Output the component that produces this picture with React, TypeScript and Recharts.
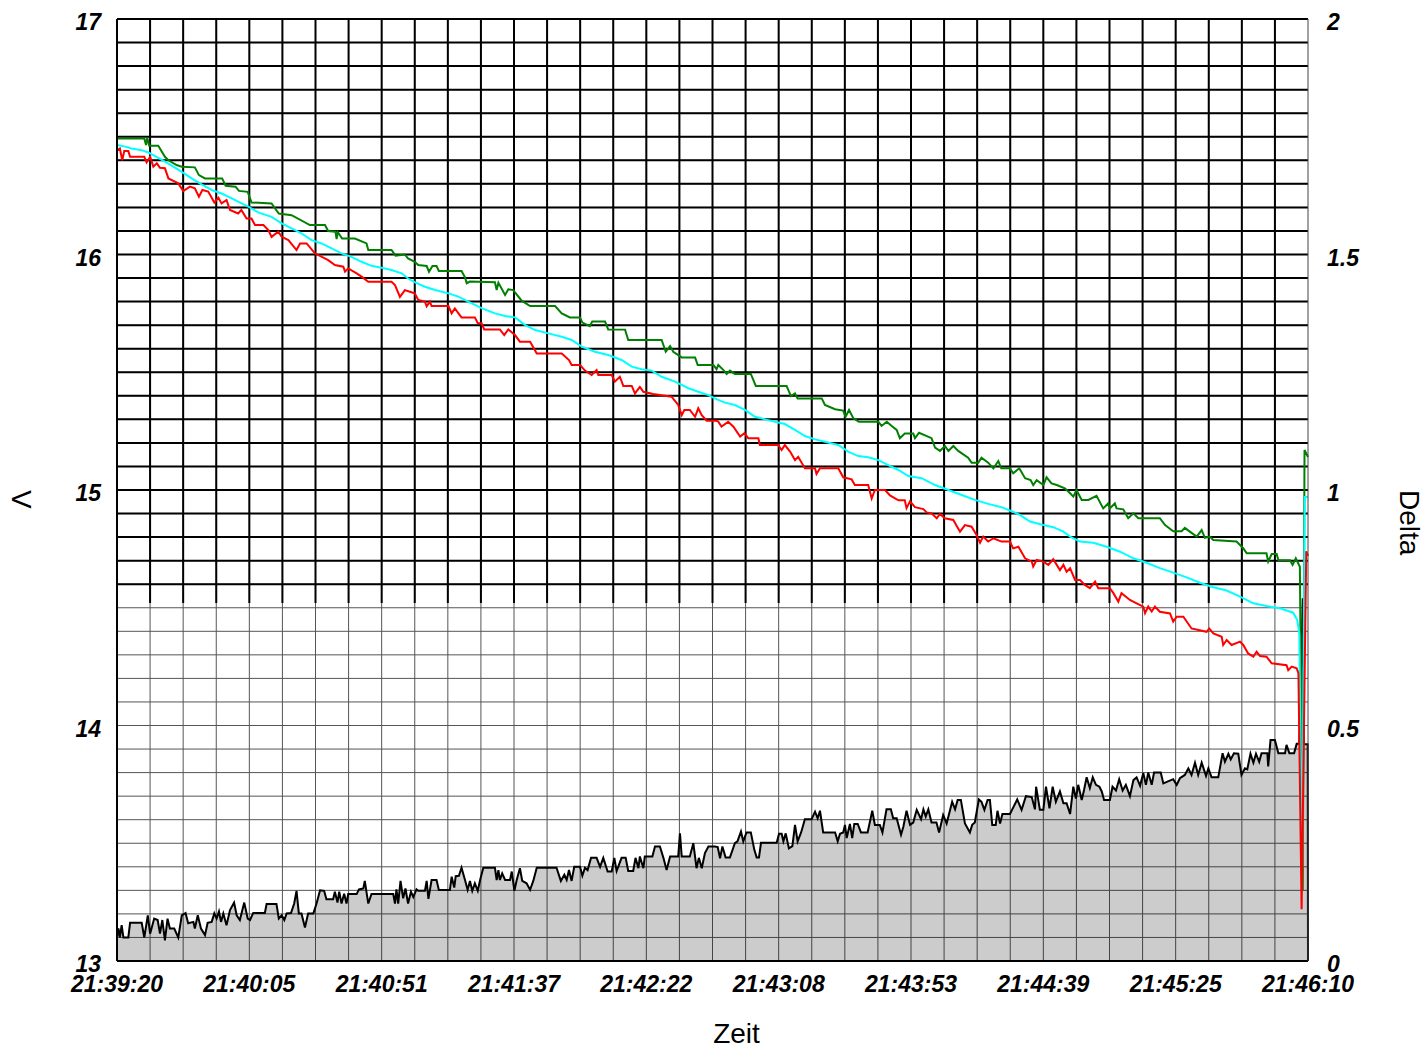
import React from 'react';
import { ComposedChart, Line, Area, XAxis, YAxis, CartesianGrid, ReferenceLine } from 'recharts';

// time labels on the x axis (seconds since 21:39:20)
const timeLabels = ['21:39:20', '21:40:05', '21:40:51', '21:41:37', '21:42:22', '21:43:08', '21:43:53', '21:44:39', '21:45:25', '21:46:10'];
const voltTicks = [13, 14, 15, 16, 17];
const deltaTicks = [0, 0.5, 1, 1.5, 2];

// [seconds, volts]
const greenCell: [number, number][] = [
  [0, 16.493], [9.4, 16.493], [10.0, 16.465], [10.4, 16.496], [11.1, 16.462], [14.2, 16.462], [16.5, 16.415], [17.7, 16.4],
  [20.5, 16.38], [22.3, 16.373], [26.8, 16.37], [28.2, 16.337], [30.3, 16.323], [36.2, 16.323], [37.4, 16.292], [40.8, 16.288],
  [42.0, 16.27], [45.0, 16.266], [46.3, 16.221], [53.2, 16.217], [55.7, 16.174], [60.1, 16.167], [66.4, 16.125], [71.6, 16.125],
  [72.7, 16.1], [75.2, 16.097], [75.6, 16.065], [76.0, 16.095], [77.5, 16.068], [81.9, 16.068], [85.9, 16.047], [86.5, 16.019],
  [94.5, 16.019], [95.9, 15.995], [99.1, 16.0], [100.2, 15.983], [102.5, 15.969], [103.7, 15.955], [106.6, 15.951], [107.4, 15.927],
  [108.6, 15.951], [110.0, 15.951], [110.8, 15.93], [118.6, 15.93], [119.8, 15.903], [120.4, 15.878], [121.5, 15.885], [130.1, 15.882],
  [130.7, 15.849], [131.3, 15.88], [133.6, 15.828], [134.7, 15.852], [136.4, 15.849], [139.3, 15.804], [142.2, 15.781], [150.8, 15.781],
  [153.1, 15.75], [155.9, 15.733], [159.4, 15.733], [160.2, 15.711], [162.8, 15.696], [163.6, 15.715], [168.0, 15.715], [169.1, 15.682],
  [174.9, 15.681], [176.0, 15.637], [187.5, 15.637], [188.9, 15.587], [190.4, 15.611], [191.5, 15.587], [194.4, 15.563], [199.0, 15.563],
  [199.9, 15.531], [205.3, 15.531], [206.4, 15.513], [207.0, 15.531], [208.7, 15.51], [209.9, 15.493], [211, 15.507], [212.7, 15.493],
  [218.2, 15.493], [219.9, 15.442], [230.5, 15.442], [232.0, 15.399], [233.4, 15.41], [234.3, 15.389], [242.6, 15.389], [243.7, 15.361],
  [247.2, 15.343], [250.0, 15.337], [250.8, 15.311], [252, 15.34], [253.5, 15.304], [255.4, 15.29], [262.1, 15.29], [263.2, 15.272],
  [265, 15.29], [266.7, 15.272], [268.4, 15.255], [269.5, 15.22], [271.2, 15.24], [274.1, 15.24], [274.7, 15.22], [276.1, 15.243],
  [280.4, 15.22], [281.6, 15.18], [283.3, 15.166], [285, 15.187], [286.2, 15.166], [287.9, 15.187], [289.6, 15.166], [293.0, 15.137],
  [294.2, 15.116], [296.5, 15.116], [297.6, 15.137], [299.9, 15.116], [301.7, 15.092], [303.4, 15.123], [304.4, 15.092], [307.4, 15.092],
  [308.5, 15.071], [310.6, 15.092], [312.6, 15.05], [314.5, 15.042], [315.4, 15.021], [316.6, 15.042], [318.9, 15.021], [320.0, 15.054],
  [321.7, 15.028], [323.5, 15.021], [326.3, 15.007], [328.1, 14.986], [329.2, 14.972], [330.3, 15.0], [332.1, 14.958], [334.4, 14.958],
  [337.2, 14.975], [339.5, 14.922], [341.2, 14.943], [341.8, 14.922], [343.5, 14.943], [344.1, 14.922], [346.4, 14.918], [348.1, 14.88],
  [349.9, 14.901], [351.6, 14.88], [359.0, 14.88], [360.8, 14.851], [363.6, 14.825], [366.5, 14.825], [367.6, 14.839], [369.9, 14.818],
  [371.7, 14.802], [373.4, 14.83], [374.5, 14.797], [376.2, 14.802], [377.4, 14.788], [385.4, 14.781], [387.7, 14.753], [388.9, 14.731],
  [395.7, 14.731], [396.3, 14.696], [397.5, 14.728], [399.2, 14.728], [399.8, 14.703], [403.8, 14.702], [404.7, 14.682], [405.8, 14.71],
  [407.2, 14.674], [408.2, 13.3], [408.8, 15.17], [410, 15.14],
];

const cyanCell: [number, number][] = [
  [0, 16.465], [2.8, 16.458], [5, 16.45], [8.5, 16.443], [10.8, 16.433], [13.6, 16.415], [16.5, 16.394], [19.4, 16.373],
  [22.3, 16.351], [25.7, 16.323], [29.1, 16.298], [32.6, 16.274], [36, 16.259], [39.5, 16.238], [42.9, 16.217], [45.2, 16.203],
  [48.6, 16.179], [53.2, 16.16], [56.7, 16.132], [60.1, 16.111], [63.5, 16.09], [67, 16.061], [70.4, 16.047], [73.9, 16.026],
  [77.3, 16.005], [80.7, 15.99], [84.2, 15.969], [87.6, 15.952], [91.1, 15.944], [94.5, 15.934], [98, 15.92], [100.2, 15.898],
  [102.6, 15.882], [106, 15.863], [109.5, 15.849], [114.1, 15.835], [117.5, 15.821], [120.9, 15.8], [125.5, 15.772], [130.1, 15.75],
  [133.6, 15.739], [137, 15.733], [140.4, 15.701], [143.9, 15.679], [148.5, 15.665], [153.1, 15.651], [156.5, 15.637], [160, 15.609],
  [164.5, 15.587], [169.1, 15.573], [173.7, 15.552], [177.2, 15.524], [180.6, 15.513], [184.1, 15.507], [187.5, 15.481], [192.1, 15.46],
  [196.7, 15.432], [200.1, 15.417], [203.6, 15.403], [206.5, 15.385], [209.3, 15.371], [212.7, 15.361], [216.2, 15.34], [219.6, 15.311],
  [223.1, 15.3], [226.5, 15.29], [229.9, 15.28], [233.4, 15.255], [236.8, 15.229], [240.3, 15.215], [243.7, 15.205], [248.3, 15.191],
  [251.7, 15.163], [255.2, 15.144], [258.6, 15.139], [262.1, 15.127], [265.5, 15.106], [269, 15.085], [272.4, 15.059], [277, 15.05],
  [281.6, 15.021], [286.2, 15.0], [290.8, 14.979], [295.3, 14.958], [299.9, 14.941], [304.5, 14.927], [308, 14.91], [310.8, 14.894],
  [314.3, 14.866], [318.9, 14.851], [322.3, 14.842], [325.8, 14.823], [328.1, 14.802], [331.5, 14.781], [336.1, 14.776], [340.7, 14.759],
  [345.3, 14.738], [349.9, 14.71], [354.4, 14.691], [359, 14.668], [363.6, 14.649], [368.2, 14.629], [372.8, 14.606], [377.4, 14.587],
  [382, 14.573], [386.6, 14.547], [391.2, 14.519], [395.7, 14.507], [400.3, 14.498], [404.9, 14.479], [406.3, 14.448], [407, 14.391],
  [408, 13.4], [408.9, 14.97], [410, 14.97],
];

const redCell: [number, number][] = [
  [0, 16.443], [1, 16.45], [1.8, 16.4], [2.5, 16.439], [3.9, 16.439], [4.5, 16.415], [9.4, 16.415], [10.2, 16.391],
  [11.4, 16.415], [12.5, 16.373], [13.7, 16.387], [14.8, 16.368], [16.5, 16.366], [17.7, 16.323], [21.1, 16.302], [22.8, 16.269],
  [25.1, 16.288], [26.8, 16.281], [28.2, 16.245], [29.4, 16.274], [31.4, 16.267], [33.5, 16.221], [34.9, 16.241], [36, 16.217],
  [37.7, 16.231], [38.9, 16.189], [41.7, 16.174], [42.8, 16.189], [44.6, 16.153], [46.3, 16.153], [47.5, 16.125], [50.4, 16.125],
  [52.1, 16.104], [53.2, 16.075], [55.5, 16.097], [56.7, 16.075], [59, 16.061], [61.8, 16.019], [63, 16.047], [65.3, 16.047],
  [68.1, 16.005], [72.7, 15.976], [75, 15.955], [77.9, 15.948], [78.5, 15.927], [79.6, 15.941], [82.5, 15.92], [84.2, 15.906],
  [86.5, 15.884], [94.5, 15.884], [95.7, 15.87], [97.4, 15.82], [99.1, 15.849], [100.8, 15.842], [102.5, 15.835], [103.7, 15.807],
  [106, 15.8], [106.6, 15.78], [107.7, 15.8], [108.3, 15.781], [114.1, 15.781], [115.2, 15.75], [116.3, 15.771], [118.6, 15.733],
  [123.2, 15.733], [124.2, 15.708], [125.5, 15.708], [126.4, 15.682], [131.8, 15.682], [133.3, 15.658], [134.7, 15.682], [137, 15.658],
  [138.7, 15.63], [142.2, 15.63], [144.5, 15.58], [153.1, 15.58], [155.6, 15.552], [156.5, 15.531], [159.4, 15.531], [161.1, 15.507],
  [163.4, 15.488], [165.1, 15.509], [165.7, 15.488], [170.3, 15.488], [171.4, 15.46], [173.1, 15.481], [174.3, 15.442], [177.2, 15.442],
  [178.3, 15.41], [180, 15.438], [181.2, 15.417], [184.6, 15.408], [190.9, 15.396], [193.2, 15.361], [194.4, 15.318], [195.3, 15.34],
  [197.2, 15.34], [199, 15.311], [200.1, 15.347], [201.3, 15.318], [203, 15.294], [206.4, 15.294], [207, 15.29], [208.1, 15.269],
  [210.4, 15.29], [212.2, 15.269], [214.5, 15.227], [216, 15.241], [217.3, 15.22], [220.8, 15.22], [221.3, 15.191], [227.6, 15.191],
  [228.8, 15.17], [229.9, 15.191], [231.7, 15.163], [233.4, 15.127], [234.5, 15.141], [236.8, 15.092], [240.3, 15.092], [240.8, 15.068],
  [242, 15.092], [248.3, 15.092], [250, 15.054], [252.9, 15.045], [254, 15.021], [258.6, 15.021], [259.8, 14.964], [260.9, 15.0],
  [264.4, 15.0], [266.1, 14.977], [269, 14.956], [271.2, 14.956], [271.8, 14.923], [273, 14.952], [274.7, 14.927], [277.6, 14.919],
  [278.7, 14.905], [280.4, 14.901], [282.2, 14.88], [283.3, 14.898], [285, 14.88], [287.9, 14.873], [290.2, 14.823], [291.9, 14.851],
  [294.2, 14.844], [295.9, 14.809], [297.1, 14.776], [298.2, 14.802], [299.9, 14.781], [301.7, 14.795], [304.5, 14.781], [307.4, 14.781],
  [308.5, 14.752], [310.3, 14.759], [312.6, 14.71], [314.9, 14.696], [315.4, 14.675], [316.6, 14.703], [318.9, 14.696], [320.6, 14.682],
  [322.3, 14.706], [324.6, 14.66], [325.8, 14.682], [326.9, 14.653], [328.1, 14.668], [329.8, 14.618], [331.5, 14.618], [333.2, 14.597],
  [334.9, 14.583], [336.7, 14.611], [337.8, 14.583], [341.8, 14.583], [343, 14.562], [344.7, 14.526], [345.8, 14.562], [348.7, 14.533],
  [351, 14.519], [353.3, 14.505], [353.9, 14.477], [355, 14.505], [356.2, 14.484], [357.3, 14.505], [359, 14.483], [362.5, 14.476],
  [363.6, 14.441], [364.8, 14.462], [367.1, 14.462], [369.9, 14.412], [375.1, 14.398], [376, 14.412], [377.4, 14.391], [380.3, 14.377],
  [380.8, 14.342], [382, 14.363], [383.7, 14.342], [386.6, 14.356], [387.7, 14.342], [389.4, 14.306], [391.2, 14.292], [392.3, 14.313],
  [393.5, 14.295], [395.7, 14.292], [397.5, 14.264], [402.6, 14.256], [403.2, 14.235], [404.4, 14.25], [406.1, 14.243], [406.7, 14.222],
  [407.8, 13.22], [409.4, 14.74], [410, 14.72],
];

// [seconds, delta] on the right axis
const delta: [number, number][] = [
  [0, 0.05], [0.5, 0.069], [1.0, 0.05], [1.6, 0.076], [2.2, 0.05], [3.9, 0.05], [4.5, 0.081], [8.5, 0.081], [9.4, 0.05],
  [10.6, 0.097], [11.4, 0.058], [12.8, 0.09], [14.0, 0.087], [14.8, 0.058], [15.6, 0.087], [16.5, 0.044], [17.4, 0.09], [18.2, 0.069],
  [19.7, 0.069], [21.1, 0.05], [22.3, 0.097], [23.6, 0.102], [24.5, 0.08], [26.3, 0.083], [26.8, 0.069], [27.8, 0.097], [28.9, 0.069],
  [30.3, 0.055], [31.2, 0.081], [32.6, 0.083], [33.5, 0.101], [34.3, 0.09], [35.1, 0.105], [35.8, 0.083], [36.6, 0.101], [37.7, 0.076],
  [38.9, 0.108], [40.3, 0.124], [41.2, 0.097], [42.3, 0.087], [43.8, 0.124], [45.0, 0.09], [45.8, 0.087], [46.9, 0.102], [50.9, 0.102],
  [51.5, 0.121], [54.9, 0.121], [55.7, 0.09], [56.7, 0.097], [57.6, 0.087], [58.4, 0.101], [59.9, 0.102], [61.0, 0.122], [61.8, 0.149],
  [62.6, 0.101], [63.5, 0.101], [64.7, 0.071], [65.8, 0.101], [67.6, 0.101], [68.7, 0.122], [69.9, 0.15], [71.3, 0.149], [72.1, 0.131],
  [74.4, 0.131], [75.0, 0.147], [75.9, 0.124], [76.5, 0.147], [77.3, 0.122], [78.2, 0.143], [79.0, 0.122], [79.6, 0.142], [82.5, 0.142],
  [83.3, 0.152], [84.8, 0.154], [85.3, 0.17], [86.5, 0.122], [87.6, 0.142], [95.1, 0.142], [95.7, 0.122], [96.2, 0.152], [96.8, 0.122],
  [97.6, 0.17], [98.5, 0.133], [99.3, 0.154], [100.2, 0.122], [101.2, 0.147], [102.0, 0.136], [103.1, 0.152], [103.7, 0.149],
  [106.0, 0.149], [106.6, 0.17], [107.2, 0.132], [108.3, 0.172], [110.0, 0.172], [110.8, 0.151], [114.6, 0.151], [115.2, 0.179],
  [116.1, 0.156], [116.6, 0.18], [117.7, 0.181], [118.6, 0.198], [119.8, 0.172], [120.7, 0.151], [121.5, 0.17], [122.3, 0.149],
  [123.2, 0.165], [124.2, 0.149], [125.0, 0.172], [126.1, 0.198], [130.1, 0.198], [130.7, 0.172], [131.3, 0.193], [131.8, 0.172],
  [132.6, 0.186], [133.6, 0.172], [135.3, 0.172], [135.9, 0.19], [136.8, 0.149], [137.6, 0.172], [138.7, 0.197], [139.5, 0.17],
  [141.0, 0.165], [142.2, 0.151], [143.3, 0.17], [144.5, 0.198], [151.3, 0.198], [152.8, 0.17], [154.0, 0.183], [154.8, 0.172],
  [155.6, 0.193], [156.5, 0.17], [157.4, 0.2], [159.4, 0.2], [160.2, 0.181], [161.1, 0.198], [162.0, 0.193], [163.2, 0.219],
  [165.1, 0.219], [166.3, 0.2], [167.4, 0.219], [168.9, 0.19], [170.3, 0.19], [171.2, 0.219], [172.0, 0.191], [173.7, 0.219],
  [175.1, 0.219], [176.0, 0.191], [177.7, 0.191], [178.5, 0.219], [179.5, 0.197], [180.0, 0.222], [181.2, 0.197], [181.7, 0.222],
  [184.3, 0.222], [185.2, 0.243], [186.9, 0.243], [188.1, 0.219], [189.2, 0.193], [190.4, 0.222], [193.2, 0.222], [193.8, 0.271],
  [194.4, 0.222], [197.2, 0.222], [198.4, 0.25], [199.5, 0.197], [200.3, 0.219], [201.3, 0.197], [202.4, 0.229], [203.6, 0.243],
  [205.8, 0.243], [206.8, 0.242], [207.6, 0.218], [208.4, 0.243], [209.5, 0.22], [211.0, 0.22], [212.7, 0.25], [213.6, 0.254],
  [214.8, 0.275], [215.6, 0.254], [216.7, 0.273], [218.2, 0.273], [219.4, 0.236], [220.2, 0.22], [221.0, 0.22], [221.7, 0.251],
  [227.1, 0.251], [227.9, 0.27], [228.8, 0.27], [229.4, 0.254], [230.2, 0.271], [231.3, 0.239], [232.5, 0.244], [233.4, 0.289],
  [234.3, 0.254], [235.5, 0.273], [236.8, 0.301], [239.1, 0.301], [240.3, 0.317], [241.2, 0.303], [242.0, 0.319], [243.1, 0.273],
  [247.2, 0.273], [248.1, 0.254], [248.9, 0.27], [250.0, 0.273], [250.6, 0.289], [251.2, 0.261], [252.3, 0.291], [253.1, 0.261],
  [253.8, 0.291], [255.0, 0.291], [256.1, 0.273], [258.4, 0.273], [260.0, 0.319], [260.9, 0.289], [262.6, 0.289], [263.5, 0.273],
  [264.9, 0.322], [266.4, 0.322], [267.2, 0.303], [268.4, 0.303], [269.9, 0.268], [270.7, 0.285], [271.8, 0.319], [273.0, 0.289],
  [274.1, 0.294], [275.3, 0.321], [276.8, 0.301], [277.6, 0.322], [278.4, 0.307], [279.3, 0.322], [280.4, 0.294], [282.1, 0.294],
  [283.0, 0.273], [284.4, 0.31], [285.6, 0.292], [287.5, 0.338], [288.5, 0.322], [289.4, 0.342], [290.5, 0.342], [291.9, 0.292],
  [293.6, 0.273], [294.4, 0.289], [295.3, 0.294], [296.7, 0.343], [297.6, 0.338], [298.6, 0.321], [299.7, 0.342], [300.5, 0.342],
  [301.3, 0.289], [302.5, 0.289], [303.1, 0.319], [304.0, 0.292], [304.8, 0.312], [307.4, 0.312], [308.2, 0.322], [309.9, 0.343],
  [311.4, 0.321], [312.9, 0.35], [314.9, 0.348], [316.0, 0.322], [316.4, 0.37], [317.7, 0.321], [318.9, 0.321], [319.8, 0.37],
  [321.0, 0.324], [322.1, 0.37], [323.2, 0.338], [324.6, 0.36], [325.8, 0.335], [326.9, 0.335], [328.1, 0.312], [329.2, 0.37],
  [330.1, 0.345], [330.9, 0.374], [332.1, 0.342], [332.9, 0.363], [333.8, 0.39], [334.9, 0.367], [335.9, 0.39], [337.0, 0.374],
  [338.2, 0.37], [339.0, 0.36], [339.8, 0.342], [341.8, 0.342], [342.7, 0.37], [343.9, 0.362], [345.0, 0.386], [346.2, 0.362],
  [347.3, 0.374], [348.7, 0.35], [349.9, 0.384], [351.0, 0.39], [352.2, 0.372], [353.3, 0.399], [354.2, 0.374], [355.0, 0.4],
  [356.2, 0.374], [357.0, 0.4], [359.3, 0.4], [360.2, 0.377], [363.6, 0.386], [364.8, 0.374], [365.9, 0.388], [367.6, 0.395],
  [368.8, 0.409], [369.9, 0.395], [371.1, 0.421], [372.2, 0.395], [373.4, 0.421], [374.9, 0.393], [375.7, 0.409], [376.8, 0.39],
  [379.1, 0.39], [380.6, 0.441], [381.4, 0.423], [382.6, 0.44], [383.4, 0.428], [384.5, 0.441], [386.0, 0.44], [387.1, 0.395],
  [388.3, 0.409], [389.1, 0.407], [390.2, 0.44], [391.2, 0.421], [392.1, 0.44], [393.2, 0.423], [394.0, 0.441], [396.0, 0.441],
  [396.3, 0.413], [397.1, 0.469], [398.6, 0.469], [399.8, 0.441], [402.1, 0.441], [402.6, 0.459], [403.6, 0.441], [405.2, 0.441],
  [406.1, 0.461], [407.0, 0.461], [408.2, 0.77], [408.6, 0.46], [409.9, 0.46], [410, 0],
];

const toPts = (arr: [number, number][]) => arr.map(([t, v]) => ({ t, v }));
const greenData = toPts(greenCell);
const cyanData = toPts(cyanCell);
const redData = toPts(redCell);
const deltaData = toPts(delta);

const T_END = 410;
const timeTicks = timeLabels.map((_, i) => (i * T_END) / 9);
const gridT = Array.from({ length: 35 }, (_, i) => ((i + 1) * T_END) / 36);
const gridV = Array.from({ length: 39 }, (_, i) => Math.round((13.1 + i * 0.1) * 10) / 10);
const blackH = [...gridV.filter((v) => v > 14.55), 17];

const tickFont = {
  fontFamily: "'Liberation Sans', Arial, sans-serif",
  fontSize: 23,
  fontWeight: 'bold',
  fontStyle: 'italic',
  fill: '#000',
};
const titleFont = { fontFamily: "'Liberation Sans', Arial, sans-serif", fontSize: 28, fill: '#000' };

export default function App() {
  return (
    <div style={{ position: 'absolute', left: 0, top: 0, background: '#fff' }}>
      <ComposedChart width={1426} height={1048} data={deltaData} margin={{ top: 19, right: 0, bottom: 0, left: 0 }}>
        <CartesianGrid yAxisId="left" horizontalValues={gridV} verticalValues={gridT} stroke="#555" strokeWidth={1} />
        <XAxis
          dataKey="t"
          type="number"
          domain={[0, T_END]}
          ticks={timeTicks}
          interval={0}
          tickFormatter={(_v: number, i: number) => timeLabels[i]}
          height={87}
          tickLine={false}
          tickSize={0}
          tickMargin={15}
          tick={tickFont}
          axisLine={{ stroke: '#000', strokeWidth: 2 }}
          label={{ value: 'Zeit', position: 'insideBottom', offset: 5, dx: 24, style: titleFont }}
        />
        <YAxis
          yAxisId="left"
          domain={[13, 17]}
          ticks={voltTicks}
          interval={0}
          width={117}
          tickLine={false}
          tickSize={0}
          tickMargin={16}
          tick={{ ...tickFont, dy: 3 }}
          axisLine={{ stroke: '#000', strokeWidth: 2 }}
          label={{ value: 'V', angle: 90, position: 'insideLeft', offset: 22, style: titleFont }}
        />
        <YAxis
          yAxisId="right"
          orientation="right"
          domain={[0, 2]}
          ticks={deltaTicks}
          interval={0}
          width={118}
          tickLine={false}
          tickSize={0}
          tickMargin={19}
          tick={{ ...tickFont, dy: 3 }}
          axisLine={{ stroke: '#444', strokeWidth: 1 }}
          label={{ value: 'Delta', angle: 90, position: 'insideLeft', offset: 102, style: titleFont }}
        />
        {blackH.map((v) => (
          <ReferenceLine key={`h${v}`} yAxisId="left" y={v} stroke="#000" strokeWidth={2} />
        ))}
        {gridT.map((t) => (
          <ReferenceLine
            key={`v${t}`}
            yAxisId="left"
            segment={[{ x: t, y: 14.52 }, { x: t, y: 17 }]}
            stroke="#000"
            strokeWidth={2}
          />
        ))}
        <Area
          yAxisId="right"
          dataKey="v"
          type="linear"
          stroke="#000"
          strokeWidth={2}
          fill="#000"
          fillOpacity={0.2}
          dot={false}
          activeDot={false}
          isAnimationActive={false}
        />
        <Line yAxisId="left" data={greenData} dataKey="v" type="linear" stroke="#008000" strokeWidth={2} dot={false} activeDot={false} isAnimationActive={false} />
        <Line yAxisId="left" data={cyanData} dataKey="v" type="linear" stroke="#00ffff" strokeWidth={2} dot={false} activeDot={false} isAnimationActive={false} />
        <Line yAxisId="left" data={redData} dataKey="v" type="linear" stroke="#ff0000" strokeWidth={2} dot={false} activeDot={false} isAnimationActive={false} />
      </ComposedChart>
    </div>
  );
}
